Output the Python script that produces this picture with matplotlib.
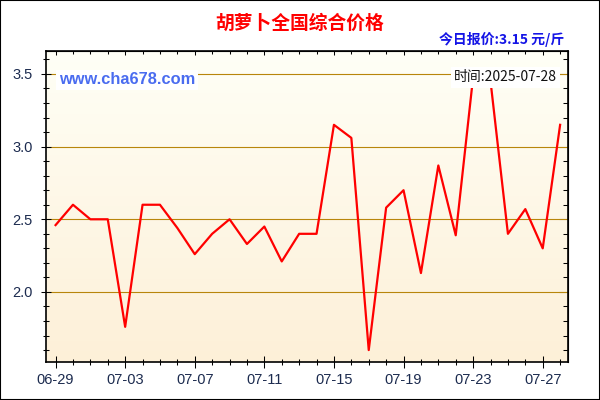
import numpy as np
import matplotlib
matplotlib.use('Agg')
import matplotlib.pyplot as plt
from matplotlib.patches import Rectangle

# daily national average price, 06-29 .. 07-28
dates = ['06-29', '06-30', '07-01', '07-02', '07-03', '07-04', '07-05', '07-06',
         '07-07', '07-08', '07-09', '07-10', '07-11', '07-12', '07-13', '07-14',
         '07-15', '07-16', '07-17', '07-18', '07-19', '07-20', '07-21', '07-22',
         '07-23', '07-24', '07-25', '07-26', '07-27', '07-28']
prices = [2.46, 2.60, 2.50, 2.50, 1.76, 2.60, 2.60, 2.44, 2.26, 2.40,
          2.50, 2.33, 2.45, 2.21, 2.40, 2.40, 3.15, 3.06, 1.60, 2.58,
          2.70, 2.13, 2.87, 2.39, 3.48, 3.45, 2.40, 2.57, 2.30, 3.15]
y_ticks = [2.0, 2.5, 3.0, 3.5]
title = '胡萝卜全国综合价格'
last_date = '2025-07-28'

cjk = ['Noto Sans CJK SC', 'DejaVu Sans']
tick_color = '#1c2b4f'
W, H = 600, 400

fig = plt.figure(figsize=(6, 4), dpi=100)
fig.patch.set_facecolor('white')
ax = fig.add_axes([46 / W, 1 - 361.7 / H, (568.3 - 46) / W, (361.7 - 50.7) / H])

x = np.arange(len(prices))

# soft yellow gradient background
grad = np.linspace(0, 1, 256).reshape(-1, 1)
top_c = np.array([255, 255, 246]) / 255
bot_c = np.array([253, 240, 216]) / 255
img = top_c + (bot_c - top_c) * grad[:, :, None]
ax.imshow(img, extent=[0, 1, 0, 1], transform=ax.transAxes, aspect='auto', zorder=0)

for v in y_ticks:
    ax.axhline(v, color='#B8860B', lw=0.8, zorder=1)

ax.plot(x, prices, color='#ff0000', lw=1.6, zorder=3)

ax.set_xlim(-0.55, 29.47)
ax.set_ylim(1.52, 3.66)

ax.set_xticks(x[::4])
ax.set_xticklabels(dates[::4])
ax.set_xticks(x, minor=True)
ax.set_yticks(y_ticks)
ax.set_yticklabels([f'{v:.1f}' for v in y_ticks])
ax.set_yticks(np.arange(1.6, 3.65, 0.1), minor=True)

ax.tick_params(axis='x', which='major', direction='inout', length=8.6, width=0.75,
               pad=4, labelsize=10.5, labelcolor=tick_color)
ax.tick_params(axis='x', which='minor', direction='inout', length=4.3, width=0.75)
ax.tick_params(axis='y', which='major', direction='inout', length=7.2, width=0.75,
               pad=6, labelsize=10.5, labelcolor=tick_color)
ax.tick_params(axis='y', which='minor', direction='inout', length=4, width=0.75)
for lab in ax.get_xticklabels() + ax.get_yticklabels():
    lab.set_family('Liberation Sans')

# inward ticks on top and right
top = ax.secondary_xaxis('top')
top.set_xticks(x[::4])
top.set_xticks(x, minor=True)
top.tick_params(which='major', direction='in', length=3.2, width=0.75, labeltop=False)
top.tick_params(which='minor', direction='in', length=2, width=0.75)
right = ax.secondary_yaxis('right')
right.set_yticks(y_ticks)
right.set_yticks(np.arange(1.6, 3.65, 0.1), minor=True)
right.tick_params(which='major', direction='in', length=6.5, width=0.75, labelright=False)
right.tick_params(which='minor', direction='in', length=3.6, width=0.75)

for sp in ax.spines.values():
    sp.set_linewidth(1.2)

# texts
fig.text(0.5, 1 - 23.5 / H, title, ha='center', va='center', color='#ff0000',
         fontsize=13.5, fontweight='bold', family=cjk)
fig.text(564.5 / W, 1 - 39 / H, f'今日报价:{prices[-1]:.2f} 元/斤', ha='right', va='center',
         color='#1414e6', fontsize=10, fontweight='bold', family=cjk)
fig.text(59 / W, 1 - 80 / H, 'www.cha678.com', ha='left', va='center', color='#4a6cf0',
         fontsize=11.8, fontweight='bold', family='Liberation Sans', zorder=5,
         bbox=dict(facecolor='white', edgecolor='none', pad=2))
fig.text(557 / W, 1 - 77.5 / H, '时间:' + last_date, ha='right', va='center', color='#111111',
         fontsize=10, family=cjk, zorder=5,
         bbox=dict(facecolor='white', edgecolor='none', pad=2.5))

fig.patches.append(Rectangle((0, 0), 1, 1, transform=fig.transFigure, fill=False,
                             edgecolor='black', lw=1.5))

fig.savefig('out.png', dpi=100)
